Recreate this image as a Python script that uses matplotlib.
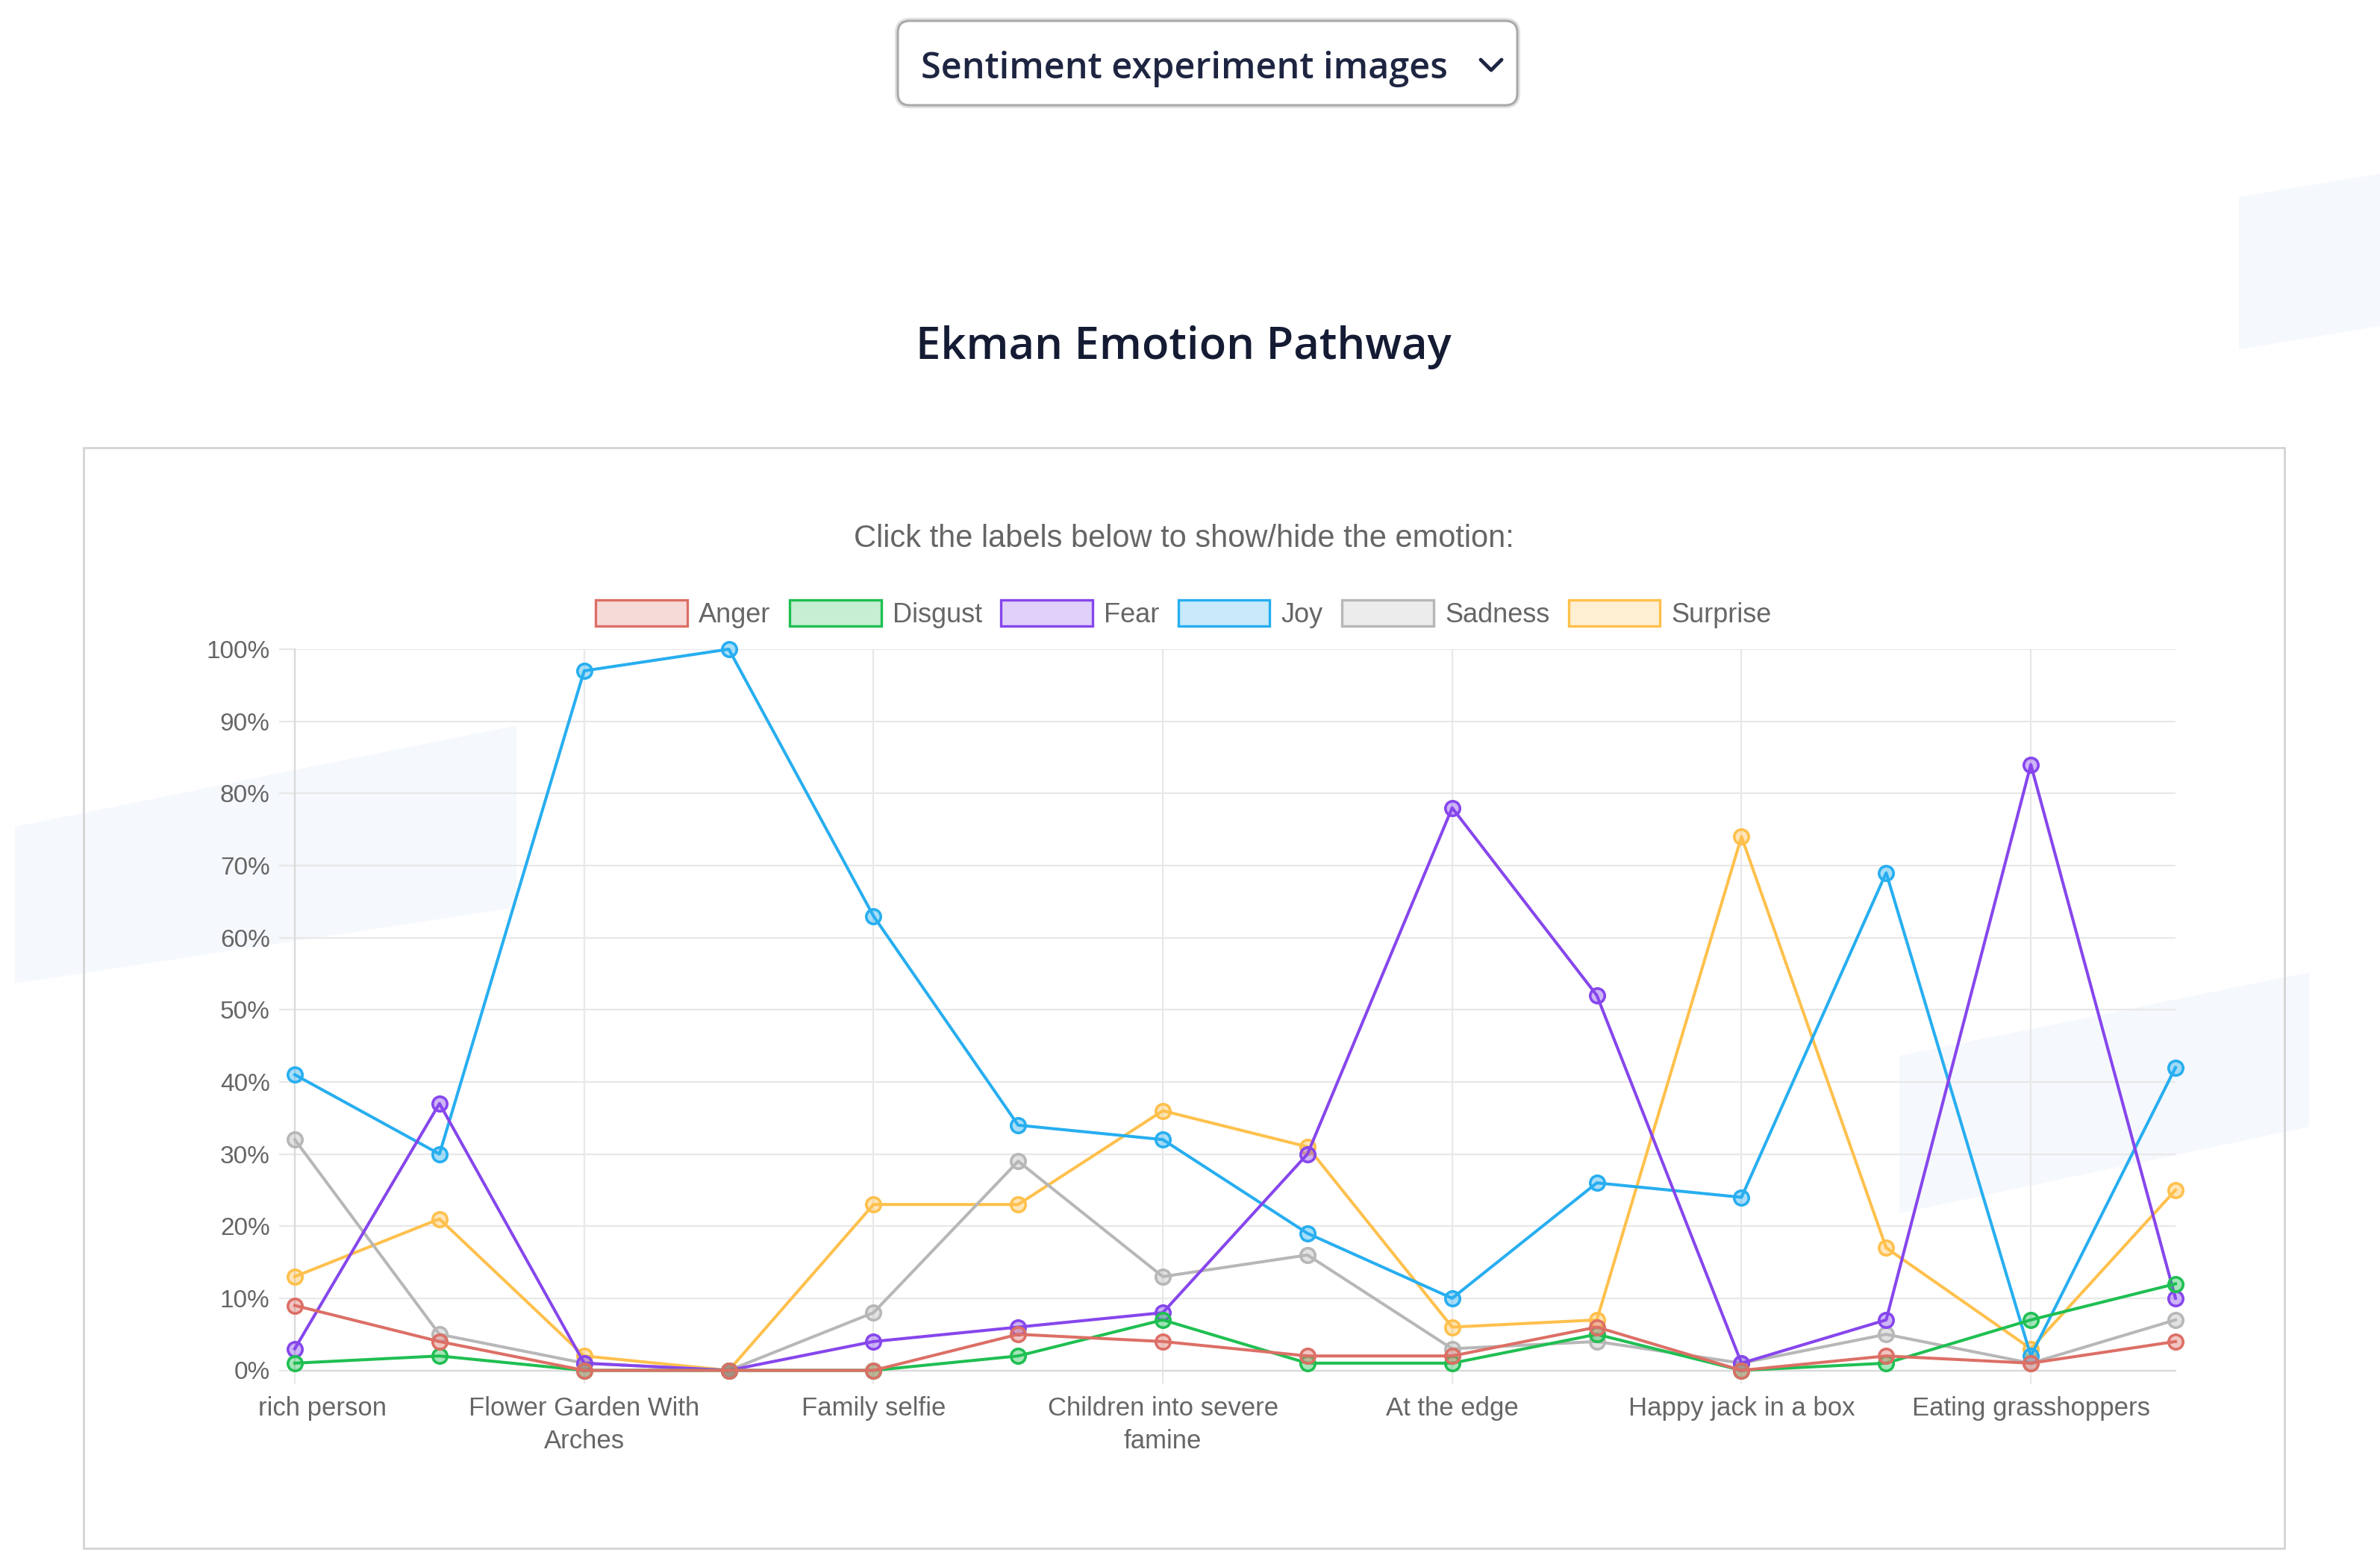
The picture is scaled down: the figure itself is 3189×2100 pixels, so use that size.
import matplotlib
matplotlib.use("Agg")
import matplotlib.pyplot as plt
import matplotlib.transforms as mtransforms
from matplotlib.colors import to_rgba
from matplotlib.patches import FancyBboxPatch, Polygon, Rectangle, Patch

W, H = 3189, 2100

# data (percent); only every other category label is shown
categories = ["rich person", "", "Flower Garden With\nArches", "", "Family selfie", "",
              "Children into severe\nfamine", "", "At the edge", "", "Happy jack in a box", "",
              "Eating grasshoppers", ""]
emotions = ["Anger", "Disgust", "Fear", "Joy", "Sadness", "Surprise"]
anger = [9, 4, 0, 0, 0, 5, 4, 2, 2, 6, 0, 2, 1, 4]
disgust = [1, 2, 0, 0, 0, 2, 7, 1, 1, 5, 0, 1, 7, 12]
fear = [3, 37, 1, 0, 4, 6, 8, 30, 78, 52, 1, 7, 84, 10]
joy = [41, 30, 97, 100, 63, 34, 32, 19, 10, 26, 24, 69, 2, 42]
sadness = [32, 5, 1, 0, 8, 29, 13, 16, 3, 4, 1, 5, 1, 7]
surprise = [13, 21, 2, 0, 23, 23, 36, 31, 6, 7, 74, 17, 3, 25]
y_ticks = [0, 10, 20, 30, 40, 50, 60, 70, 80, 90, 100]

series = [anger, disgust, fear, joy, sadness, surprise]
colors = ["#dc6f66", "#1fbf52", "#8646ec", "#27aef0", "#b7b7b7", "#ffc04c"]
grid_c = "#e8e8e8"
text_c = "#666666"
chart_font = "Liberation Sans"

fig = plt.figure(figsize=(W / 100, H / 100), dpi=100)
fig.patch.set_facecolor("white")

# full-figure pixel axes for page decorations
bg = fig.add_axes([0, 0, 1, 1], zorder=0)
bg.set_xlim(0, W)
bg.set_ylim(H, 0)
bg.axis("off")

# faint background shapes
for pts in ([(20, 1108), (692, 972), (692, 1216), (20, 1318)],
            [(2545, 1415), (3094, 1303), (3094, 1510), (2545, 1626)],
            [(3000, 264), (3189, 233), (3189, 437), (3000, 468)]):
    bg.add_patch(Polygon(pts, closed=True, fc="#f5f8fc", ec="none", zorder=0))

# dropdown
bg.add_patch(FancyBboxPatch((1203, 28), 830, 113, boxstyle="round,pad=0,rounding_size=16",
                            fc="none", ec="#e2e2e2", lw=6, zorder=1))
bg.add_patch(FancyBboxPatch((1203, 28), 830, 113, boxstyle="round,pad=0,rounding_size=16",
                            fc="white", ec="#a9a9a9", lw=2.2, zorder=2))
bg.text(1234, 105, "Sentiment experiment images", ha="left", va="baseline",
        fontsize=35, family="Open Sans", weight="semibold", color="#1e2541", zorder=3)
bg.plot([1984, 1998, 2012], [80, 94, 80], color="#1e2541", lw=3.5,
        solid_capstyle="round", solid_joinstyle="round", zorder=3)

bg.text(1586, 481, "Ekman Emotion Pathway", ha="center", va="baseline",
        fontsize=43, family="Open Sans", weight="semibold", color="#141b33", zorder=3)

# card
bg.add_patch(Rectangle((112, 600), 2949, 1475, fc="none", ec="#d4d4d4", lw=2, zorder=1))

bg.text(1586, 733, "Click the labels below to show/hide the emotion:", ha="center",
        va="baseline", fontsize=30, family=chart_font, color=text_c, zorder=3)

# chart
ax = fig.add_axes([395 / W, 1 - 1836.5 / H, (2915 - 395) / W, (1836.5 - 870) / H], zorder=2)
ax.patch.set_alpha(0)
x = list(range(len(categories)))
for i in reversed(range(len(emotions))):
    c = colors[i]
    ax.plot(x, series[i], color=c, lw=2.9, marker="o", ms=14,
            mfc=to_rgba(c, 0.4), mec=c, mew=2.6, clip_on=False, zorder=3 + (6 - i))

ax.set_xlim(0, len(categories) - 1)
ax.set_ylim(0, 100)
shown = [i for i, c in enumerate(categories) if c]
ax.set_xticks(shown)
ax.set_xticklabels([categories[i] for i in shown], fontsize=25, family=chart_font,
                   color=text_c, linespacing=1.4)
ax.set_yticks(y_ticks)
ax.set_yticklabels([f"{v}%" for v in y_ticks], fontsize=24, family=chart_font, color=text_c)
ax.grid(True, color=grid_c, lw=1.6)
ax.set_axisbelow(True)
for s in ("top", "right"):
    ax.spines[s].set_visible(False)
for s in ("left", "bottom"):
    ax.spines[s].set_color("#d9d9d9")
    ax.spines[s].set_linewidth(1.6)
ax.tick_params(axis="y", length=15, width=1.6, color=grid_c, pad=9)
ax.tick_params(axis="x", length=13, width=1.6, color=grid_c, pad=12)

# first label is pushed right in the original
lbl = ax.get_xticklabels()[0]
lbl.set_transform(lbl.get_transform() + mtransforms.ScaledTranslation(0.37, 0, fig.dpi_scale_trans))

handles = [Patch(fc=to_rgba(c, 0.25), ec=c, lw=2.4) for c in colors]
leg = fig.legend(handles, emotions, loc="center", bbox_to_anchor=(1586 / W, 1 - 823 / H),
                 ncol=6, frameon=False, prop={"family": chart_font, "size": 26},
                 handlelength=3.4, handleheight=1.1, handletextpad=0.42, columnspacing=0.7,
                 labelcolor=text_c)

fig.savefig("out.png", dpi=100)
